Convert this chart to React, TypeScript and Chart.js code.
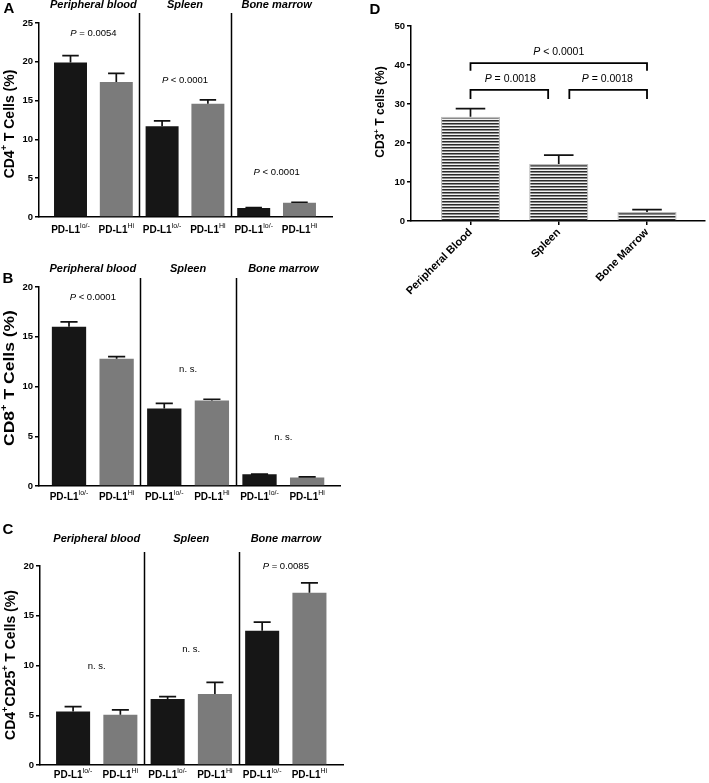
import React, { useEffect, useRef } from "react";
import { Chart, registerables } from "chart.js";

Chart.register(...registerables);

const FONT = "'Liberation Sans', Arial, Helvetica, sans-serif";

// ---------------- data ----------------
const groupNames = ["Peripheral blood", "Spleen", "Bone marrow"];
const pdl1Base = "PD-L1";
const pdl1Sup = ["lo/-", "Hi", "lo/-", "Hi", "lo/-", "Hi"];

const cd4Mean = [19.9, 17.4, 11.7, 14.6, 1.15, 1.85];
const cd4Sem = [0.9, 1.1, 0.7, 0.5, 0.05, 0.05];
const cd4P = ["P = 0.0054", "P < 0.0001", "P < 0.0001"];
const cd4Ticks = [0, 5, 10, 15, 20, 25];

const cd8Mean = [16.0, 12.8, 7.8, 8.6, 1.17, 0.86];
const cd8Sem = [0.5, 0.2, 0.5, 0.12, 0.03, 0.05];
const cd8P = ["P < 0.0001", "n. s.", "n. s."];
const cd8Ticks = [0, 5, 10, 15, 20];

const tregMean = [5.37, 5.04, 6.64, 7.14, 13.49, 17.3];
const tregSem = [0.5, 0.5, 0.23, 1.16, 0.87, 1.0];
const tregP = ["n. s.", "n. s.", "P = 0.0085"];
const tregTicks = [0, 5, 10, 15, 20];

const cd3Sites = ["Peripheral Blood", "Spleen", "Bone Marrow"];
const cd3Mean = [26.7, 14.6, 2.3];
const cd3Sem = [2.1, 2.3, 0.6];
const cd3P = ["P < 0.0001", "P = 0.0018", "P = 0.0018"];
const cd3Ticks = [0, 10, 20, 30, 40, 50];

const titleA: [string, boolean][] = [["CD4", false], ["+", true], [" T Cells (%)", false]];
const titleB: [string, boolean][] = [["CD8", false], ["+", true], [" T Cells (%)", false]];
const titleC: [string, boolean][] = [["CD4", false], ["+", true], ["CD25", false], ["+", true], [" T Cells (%)", false]];
const titleD: [string, boolean][] = [["CD3", false], ["+", true], [" T cells (%)", false]];

const barColors = ["#161616", "#7b7b7b", "#161616", "#7b7b7b", "#161616", "#7b7b7b"];

// ---------------- helpers ----------------
type Seg = { t: string; font: string; dy?: number };

function drawSegs(ctx: CanvasRenderingContext2D, segs: Seg[], x: number, y: number, rot = 0, sx = 1) {
  ctx.save();
  ctx.translate(x, y);
  ctx.rotate(rot);
  ctx.scale(sx, 1);
  ctx.textBaseline = "middle";
  ctx.textAlign = "left";
  ctx.fillStyle = "#000";
  let w = 0;
  for (const s of segs) {
    ctx.font = s.font;
    w += ctx.measureText(s.t).width;
  }
  let cx = -w / 2;
  for (const s of segs) {
    ctx.font = s.font;
    ctx.fillText(s.t, cx, s.dy || 0);
    cx += ctx.measureText(s.t).width;
  }
  ctx.restore();
}

function pSegs(text: string, size: number): Seg[] {
  if (text.startsWith("P")) {
    return [
      { t: "P", font: `italic ${size}px ${FONT}` },
      { t: text.slice(1), font: `${size}px ${FONT}` },
    ];
  }
  return [{ t: text, font: `${size}px ${FONT}` }];
}

function titleSegs(parts: [string, boolean][], size: number): Seg[] {
  return parts.map(([t, sup]) =>
    sup
      ? { t, font: `bold ${Math.round(size * 0.65)}px ${FONT}`, dy: -size * 0.38 }
      : { t, font: `bold ${size}px ${FONT}` }
  );
}

interface PanelCfg {
  pos: { left: number; top: number; width: number; height: number };
  area: { l: number; t: number; r: number; b: number };
  xMin: number;
  xMax: number;
  yTicks: number[];
  means: number[];
  sems: number[];
  colors: any[] | null;
  letter: { t: string; x: number; y: number };
  title: { parts: [string, boolean][]; size: number; x: number; y: number; stretch?: number };
  grouped: boolean;
  pTexts: string[];
  pY: number[];
  pX?: number[];
  pSize: number;
  groupTitleY?: number;
  dividerTop?: number;
  tickLabelOffset?: number;
  brackets?: { x0: number; x1: number; y: number; leg: number }[];
  xLabels?: string[];
}

function buildChart(canvas: HTMLCanvasElement, cfg: PanelCfg) {
  const { area, pos } = cfg;
  const n = cfg.means.length;
  let bg: any = cfg.colors;
  if (!bg) {
    const pc = document.createElement("canvas");
    pc.width = 4;
    pc.height = 3;
    const g = pc.getContext("2d")!;
    g.fillStyle = "#f2f2f2";
    g.fillRect(0, 0, 4, 3);
    g.fillStyle = "#2a2a2a";
    g.fillRect(0, 0, 4, 1);
    g.fillStyle = "#8a8a8a";
    g.fillRect(0, 1, 4, 1);
    bg = canvas.getContext("2d")!.createPattern(pc, "repeat");
  }

  const decor = {
    id: "decor",
    afterDatasetsDraw(chart: any) {
      const ctx = chart.ctx as CanvasRenderingContext2D;
      const meta = chart.getDatasetMeta(0);
      const ys = chart.scales.y;
      ctx.save();
      ctx.strokeStyle = "#111";
      ctx.lineWidth = 1.7;
      meta.data.forEach((bar: any, i: number) => {
        const top = ys.getPixelForValue(cfg.means[i]);
        const cap = ys.getPixelForValue(cfg.means[i] + cfg.sems[i]);
        const half = bar.width / 4;
        ctx.beginPath();
        ctx.moveTo(bar.x, top);
        ctx.lineTo(bar.x, cap);
        ctx.moveTo(bar.x - half, cap);
        ctx.lineTo(bar.x + half, cap);
        ctx.stroke();
      });
      ctx.restore();
    },
    afterDraw(chart: any) {
      const ctx = chart.ctx as CanvasRenderingContext2D;
      const xs = chart.scales.x;
      const ys = chart.scales.y;
      const ca = chart.chartArea;
      ctx.save();
      ctx.strokeStyle = "#000";
      ctx.lineWidth = 1.5;
      if (cfg.grouped) {
        // dividers
        [1.5, 3.5].forEach((v) => {
          const px = Math.round(xs.getPixelForValue(v)) + 0.5;
          ctx.beginPath();
          ctx.moveTo(px, cfg.dividerTop!);
          ctx.lineTo(px, ca.bottom);
          ctx.stroke();
        });
        // group titles
        groupNames.forEach((name, g) => {
          const gx = xs.getPixelForValue(g * 2 + 0.5);
          drawSegs(ctx, [{ t: name, font: `italic bold 11px ${FONT}` }], gx, cfg.groupTitleY!);
        });
        // tick labels
        for (let i = 0; i < n; i++) {
          const px = xs.getPixelForValue(i);
          drawSegs(
            ctx,
            [
              { t: pdl1Base, font: `bold 10px ${FONT}` },
              { t: pdl1Sup[i], font: `7px ${FONT}`, dy: -4 },
            ],
            px,
            ca.bottom + cfg.tickLabelOffset!
          );
        }
      }
      // p-values
      cfg.pTexts.forEach((txt, g) => {
        const xv = cfg.pX ? cfg.pX[g] : g * 2 + 0.5;
        drawSegs(ctx, pSegs(txt, cfg.pSize), xs.getPixelForValue(xv), ys.getPixelForValue(cfg.pY[g]));
      });
      // brackets
      if (cfg.brackets) {
        ctx.lineWidth = 1.8;
        cfg.brackets.forEach((b) => {
          const x0 = xs.getPixelForValue(b.x0);
          const x1 = xs.getPixelForValue(b.x1);
          const y = ys.getPixelForValue(b.y);
          const yl = ys.getPixelForValue(b.leg);
          ctx.beginPath();
          ctx.moveTo(x0, yl);
          ctx.lineTo(x0, y);
          ctx.lineTo(x1, y);
          ctx.lineTo(x1, yl);
          ctx.stroke();
        });
      }
      // letter
      drawSegs(ctx, [{ t: cfg.letter.t, font: `bold 15px ${FONT}` }], cfg.letter.x, cfg.letter.y);
      // y title
      drawSegs(
        ctx,
        titleSegs(cfg.title.parts, cfg.title.size),
        cfg.title.x,
        cfg.title.y,
        -Math.PI / 2,
        cfg.title.stretch || 1
      );
      ctx.restore();
    },
  };

  const data = cfg.means.map((v, i) => ({ x: i, y: v }));

  return new Chart(canvas, {
    type: "bar",
    data: {
      datasets: [
        {
          data: data as any,
          backgroundColor: bg,
          borderColor: cfg.colors ? cfg.colors : "#bdbdbd",
          borderWidth: cfg.colors ? 0 : 1.2,
          barPercentage: cfg.grouped ? 0.72 : 0.67,
          categoryPercentage: 1,
        },
      ],
    },
    options: {
      responsive: false,
      animation: false,
      devicePixelRatio: 1,
      layout: { padding: { left: 0, top: area.t, right: pos.width - area.r, bottom: 0 } },
      plugins: { legend: { display: false }, tooltip: { enabled: false } },
      scales: {
        x: {
          type: "linear",
          offset: false,
          min: cfg.xMin,
          max: cfg.xMax,
          afterBuildTicks: (s: any) => {
            s.ticks = Array.from({ length: n }, (_, i) => ({ value: i }));
          },
          afterFit: (s: any) => {
            s.height = pos.height - area.b;
          },
          ticks: cfg.grouped
            ? { display: false }
            : {
                display: true,
                autoSkip: false,
                maxRotation: 45,
                minRotation: 45,
                padding: 1,
                color: "#000",
                font: { family: FONT, size: 11, weight: "bold" },
                callback: (v: any) => cfg.xLabels![Math.round(v)] ?? "",
              },
          grid: cfg.grouped
            ? { display: false, offset: false }
            : { display: true, offset: false, drawOnChartArea: false, drawTicks: true, tickLength: 4, color: "#000", lineWidth: 1.5 },
          border: { display: true, color: "#000", width: 1.5 },
        },
        y: {
          min: 0,
          max: cfg.yTicks[cfg.yTicks.length - 1],
          afterBuildTicks: (s: any) => {
            s.ticks = cfg.yTicks.map((v) => ({ value: v }));
          },
          afterFit: (s: any) => {
            s.width = area.l;
          },
          ticks: {
            color: "#000",
            padding: 2,
            font: { family: FONT, size: 9.5, weight: "bold" },
          },
          grid: { display: true, drawOnChartArea: false, drawTicks: true, tickLength: 4, color: "#000", lineWidth: 1.5 },
          border: { display: true, color: "#000", width: 1.5 },
        },
      },
    } as any,
    plugins: [decor as any],
  });
}

// ---------------- panels ----------------
const panels: PanelCfg[] = [
  {
    pos: { left: 0, top: 0, width: 360, height: 250 },
    area: { l: 39, t: 23, r: 332, b: 217 },
    xMin: -0.688,
    xMax: 5.71,
    yTicks: cd4Ticks,
    means: cd4Mean,
    sems: cd4Sem,
    colors: barColors,
    letter: { t: "A", x: 9, y: 9 },
    title: { parts: titleA, size: 14, x: 10, y: 124 },
    grouped: true,
    pTexts: cd4P,
    pY: [23.7, 17.65, 5.8],
    pSize: 9.5,
    groupTitleY: 5,
    dividerTop: 13,
    tickLabelOffset: 13,
  },
  {
    pos: { left: 0, top: 250, width: 360, height: 255 },
    area: { l: 39, t: 37, r: 340, b: 236 },
    xMin: -0.63,
    xMax: 5.69,
    yTicks: cd8Ticks,
    means: cd8Mean,
    sems: cd8Sem,
    colors: barColors,
    letter: { t: "B", x: 8, y: 29 },
    title: { parts: titleB, size: 14, x: 10, y: 128, stretch: 1.25 },
    grouped: true,
    pTexts: cd8P,
    pY: [19.0, 11.76, 4.92],
    pSize: 9.5,
    groupTitleY: 19,
    dividerTop: 28,
    tickLabelOffset: 11,
  },
  {
    pos: { left: 0, top: 505, width: 360, height: 278 },
    area: { l: 40, t: 61, r: 343, b: 260 },
    xMin: -0.7,
    xMax: 5.71,
    yTicks: tregTicks,
    means: tregMean,
    sems: tregSem,
    colors: barColors,
    letter: { t: "C", x: 8, y: 25 },
    title: { parts: titleC, size: 14, x: 11, y: 160 },
    grouped: true,
    pTexts: tregP,
    pY: [9.95, 11.65, 19.97],
    pSize: 9.5,
    groupTitleY: 34,
    dividerTop: 47,
    tickLabelOffset: 10,
  },
  {
    pos: { left: 365, top: 0, width: 344, height: 300 },
    area: { l: 46, t: 26, r: 340, b: 221 },
    xMin: -0.674,
    xMax: 2.657,
    yTicks: cd3Ticks,
    means: cd3Mean,
    sems: cd3Sem,
    colors: null,
    letter: { t: "D", x: 10, y: 10 },
    title: { parts: titleD, size: 12, x: 16, y: 112 },
    grouped: false,
    pTexts: cd3P,
    pY: [43.3, 36.5, 36.5],
    pX: [1.0, 0.45, 1.55],
    pSize: 10.5,
    brackets: [
      { x0: 0, x1: 2, y: 40.5, leg: 38.5 },
      { x0: 0, x1: 0.88, y: 33.6, leg: 31.3 },
      { x0: 1.12, x1: 2, y: 33.6, leg: 31.3 },
    ],
    xLabels: cd3Sites,
  },
];

function Panel({ cfg }: { cfg: PanelCfg }) {
  const ref = useRef<HTMLCanvasElement>(null);
  useEffect(() => {
    if (!ref.current) return;
    const chart = buildChart(ref.current, cfg);
    return () => chart.destroy();
  }, [cfg]);
  return (
    <canvas
      ref={ref}
      width={cfg.pos.width}
      height={cfg.pos.height}
      style={{
        position: "absolute",
        left: cfg.pos.left,
        top: cfg.pos.top,
        width: cfg.pos.width,
        height: cfg.pos.height,
      }}
    />
  );
}

export default function App() {
  return (
    <div style={{ position: "absolute", left: 0, top: 0, width: 709, height: 783, background: "#fff" }}>
      {panels.map((p, i) => (
        <Panel key={i} cfg={p} />
      ))}
    </div>
  );
}
